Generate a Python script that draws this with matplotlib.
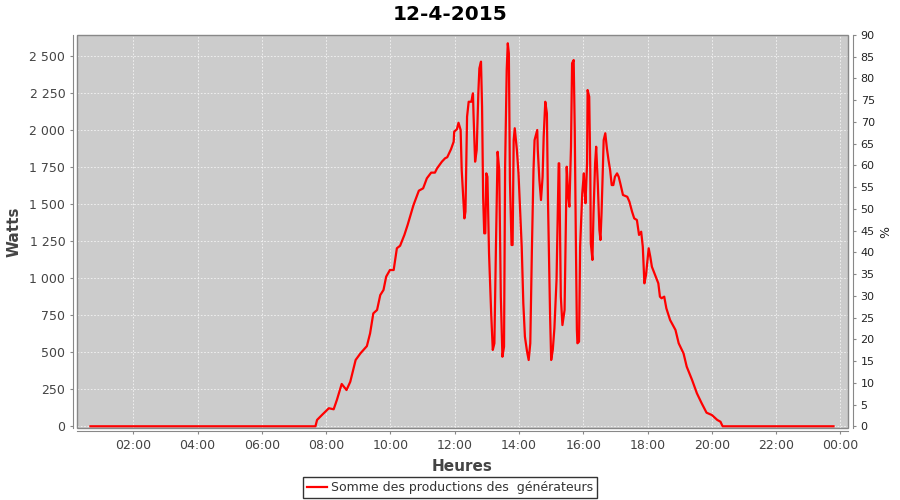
import pandas as pd
import matplotlib
matplotlib.use("Agg")
from matplotlib import pyplot as plt
import matplotlib.dates as mdates
from matplotlib.ticker import FuncFormatter, MultipleLocator
from matplotlib.patches import Rectangle

jour = "2015-04-12"
heures = [
    "00:40", "07:40", "07:43", "07:52", "08:05", "08:14", "08:20", "08:29", "08:38", "08:45",
    "08:55", "09:04", "09:16", "09:22", "09:28", "09:35", "09:41", "09:47", "09:52", "09:59",
    "10:06", "10:12", "10:18", "10:26", "10:32", "10:43", "10:53", "11:01", "11:08", "11:16",
    "11:23", "11:27", "11:36", "11:42", "11:46", "11:53", "11:58", "11:59", "12:04", "12:07",
    "12:11", "12:13", "12:18", "12:20", "12:23", "12:26", "12:31", "12:34", "12:35", "12:38",
    "12:41", "12:44", "12:46", "12:49", "12:51", "12:53", "12:55", "12:57", "12:59", "13:01",
    "13:04", "13:08", "13:11", "13:14", "13:17", "13:20", "13:23", "13:26", "13:29", "13:32",
    "13:34", "13:37", "13:39", "13:41", "13:43", "13:46", "13:48", "13:50", "13:52", "13:56",
    "13:59", "14:02", "14:05", "14:08", "14:11", "14:15", "14:18", "14:21", "14:24", "14:27",
    "14:29", "14:34", "14:35", "14:38", "14:41", "14:44", "14:46", "14:49", "14:52", "14:54",
    "14:58", "15:00", "15:03", "15:06", "15:10", "15:14", "15:15", "15:18", "15:21", "15:25",
    "15:28", "15:29", "15:32", "15:34", "15:37", "15:39", "15:42", "15:44", "15:46", "15:48",
    "15:49", "15:52", "15:54", "15:58", "16:01", "16:02", "16:04", "16:07", "16:08", "16:11",
    "16:13", "16:14", "16:17", "16:19", "16:22", "16:24", "16:27", "16:30", "16:32", "16:34",
    "16:38", "16:41", "16:44", "16:47", "16:50", "16:53", "16:56", "16:59", "17:03", "17:06",
    "17:09", "17:14", "17:22", "17:26", "17:31", "17:35", "17:40", "17:44", "17:48", "17:51",
    "17:54", "17:57", "18:02", "18:05", "18:08", "18:14", "18:20", "18:23", "18:26", "18:31",
    "18:35", "18:42", "18:52", "18:58", "19:07", "19:13", "19:23", "19:32", "19:41", "19:50",
    "20:00", "20:10", "20:16", "20:20", "23:47",
]
watts = [
    0, 0, 43, 76, 122, 115, 178, 286, 245, 301,
    448, 493, 542, 628, 763, 786, 887, 921, 1011, 1056,
    1056, 1203, 1220, 1293, 1360, 1495, 1592, 1608, 1676, 1714,
    1714, 1743, 1788, 1811, 1818, 1872, 1923, 1991, 2007, 2051,
    2002, 1732, 1405, 1450, 2092, 2193, 2193, 2250, 2115, 1788,
    1867, 2250, 2419, 2464, 2159, 1551, 1304, 1304, 1709, 1686,
    1169, 763, 516, 561, 1236, 1855, 1732, 876, 470, 538,
    1754, 2407, 2588, 2520, 1664, 1225, 1225, 1934, 2014, 1867,
    1709, 1461, 1214, 831, 605, 504, 448, 561, 1191, 1732,
    1934, 2002, 1867, 1664, 1529, 1686, 1957, 2193, 2115, 1529,
    741, 448, 516, 662, 989, 1777, 1777, 876, 684, 786,
    1507, 1754, 1551, 1484, 1889, 2453, 2475, 2002, 1281, 651,
    561, 572, 1214, 1574, 1709, 1619, 1507, 1777, 2272, 2227,
    1732, 1236, 1124, 1439, 1777, 1889, 1642, 1326, 1259, 1439,
    1934, 1980, 1878, 1799, 1732, 1630, 1630, 1686, 1709, 1686,
    1642, 1563, 1551, 1518, 1450, 1405, 1394, 1293, 1315, 1214,
    966, 1022, 1203, 1146, 1078, 1022, 966, 876, 865, 876,
    797, 718, 651, 561, 493, 403, 313, 223, 155, 92,
    76, 43, 31, 0, 0,
]

temps = pd.to_datetime([jour + " " + h for h in heures])

fig = plt.figure(figsize=(9, 5), dpi=100)
ax = fig.add_axes([0.0856, 0.144, 0.8566, 0.786])
ax.set_facecolor("#cccccc")

ax.plot(temps, watts, color="#ff0000", lw=1.6,
        label="Somme des productions des  générateurs")

debut = pd.Timestamp(jour + " 00:15")
fin = pd.Timestamp(jour) + pd.Timedelta(hours=24, minutes=14)
ax.set_xlim(debut, fin)
ax.set_ylim(-11.5, 2644)

ax.xaxis.set_major_locator(mdates.HourLocator(byhour=range(0, 24, 2)))
ax.xaxis.set_major_formatter(mdates.DateFormatter("%H:%M"))
ax.yaxis.set_major_locator(MultipleLocator(250))
ax.yaxis.set_major_formatter(FuncFormatter(lambda v, p: f"{int(round(v)):,}".replace(",", " ")))

ax.grid(True, color="#f4f4f4", ls=(0, (2, 2)), lw=0.6)
ax.set_axisbelow(True)

gris = "#888888"
for s in ["top", "right"]:
    ax.spines[s].set_visible(False)
ax.spines["left"].set_position(("outward", 2.9))
ax.spines["bottom"].set_position(("outward", 2.2))
for s in ["left", "bottom"]:
    ax.spines[s].set_color(gris)
ax.add_patch(Rectangle((0, 0), 1, 1, transform=ax.transAxes, fill=False,
                       edgecolor=gris, lw=1.0, zorder=5, clip_on=False))
ax.tick_params(colors=gris, labelcolor="#444444", labelsize=9, length=2)

ax.set_xlabel("Heures", fontsize=11, fontweight="bold", color="#444444", labelpad=5)
ax.set_ylabel("Watts", fontsize=11, fontweight="bold", color="#444444", labelpad=6)

ax2 = ax.twinx()
ax2.set_ylim(-0.39, 90)
ax2.yaxis.set_major_locator(MultipleLocator(5))
for s in ["top", "left", "bottom"]:
    ax2.spines[s].set_visible(False)
ax2.spines["right"].set_position(("outward", 3.6))
ax2.spines["right"].set_color(gris)
ax2.tick_params(colors=gris, labelcolor="#222222", labelsize=8, length=2)
ax2.set_ylabel("%", fontsize=9, color="#222222", rotation=-90, labelpad=10)

fig.suptitle("12-4-2015", fontsize=14.5, fontweight="bold", y=0.99)

leg = fig.legend(loc="center", bbox_to_anchor=(0.5, 0.025), fontsize=9,
                 frameon=True, fancybox=False, handlelength=1.6,
                 borderpad=0.3, handletextpad=0.3)
leg.get_frame().set_edgecolor("black")
leg.get_frame().set_linewidth(1.0)
for t in leg.get_texts():
    t.set_color("#333333")

fig.savefig("out.png", dpi=100)
